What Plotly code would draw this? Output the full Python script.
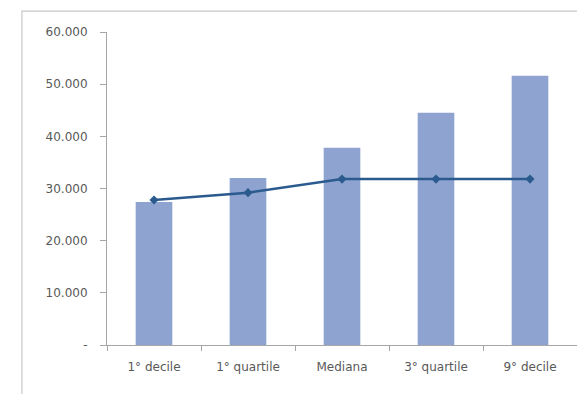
import plotly.graph_objects as go

# Categorie della distribuzione
categorie = ["1° decile", "1° quartile", "Mediana", "3° quartile", "9° decile"]

# Valori delle barre e della linea
valori_barre = [27400, 32000, 37800, 44500, 51600]
valori_linea = [27800, 29200, 31800, 31800, 31800]

# Etichette dell'asse verticale
tick_valori = [0, 10000, 20000, 30000, 40000, 50000, 60000]
tick_etichette = ["-", "10.000", "20.000", "30.000", "40.000", "50.000", "60.000"]

colore_barre = "#8EA3CF"
colore_linea = "#2A5A8E"
colore_testo = "#595959"
colore_assi = "#A6A6A6"
carattere = "DejaVu Sans, Arial, sans-serif"

fig = go.Figure()

fig.add_trace(go.Bar(
    x=categorie,
    y=valori_barre,
    marker=dict(color=colore_barre, line=dict(width=0)),
    showlegend=False,
    hoverinfo="x+y",
))

fig.add_trace(go.Scatter(
    x=categorie,
    y=valori_linea,
    mode="lines+markers",
    line=dict(color=colore_linea, width=2.5),
    marker=dict(symbol="diamond", size=7, color=colore_linea),
    showlegend=False,
))

# Cornice del grafico
fig.add_shape(
    type="rect", xref="paper", yref="paper",
    x0=-0.181, x1=1.3, y0=-0.3, y1=1.067,
    line=dict(color="#C8C8C8", width=1.2),
    fillcolor="rgba(0,0,0,0)",
    layer="below",
)

fig.update_layout(
    width=577,
    height=394,
    margin=dict(l=107, r=0, t=32, b=49),
    paper_bgcolor="white",
    plot_bgcolor="white",
    bargap=0.61,
    font=dict(family=carattere, size=12, color=colore_testo),
    xaxis=dict(
        range=[-0.5, 4.5],
        showline=True,
        linecolor=colore_assi,
        linewidth=1,
        ticks="outside",
        tickson="boundaries",
        ticklen=5,
        tickcolor=colore_assi,
        showgrid=False,
        zeroline=False,
        ticklabelstandoff=11,
        tickfont=dict(family=carattere, size=12, color=colore_testo),
    ),
    yaxis=dict(
        range=[0, 60000],
        tickvals=tick_valori,
        ticktext=tick_etichette,
        showline=True,
        linecolor=colore_assi,
        linewidth=1,
        ticks="outside",
        ticklen=6,
        tickcolor=colore_assi,
        showgrid=False,
        zeroline=False,
        ticklabelstandoff=10,
        tickfont=dict(family=carattere, size=12, color=colore_testo),
    ),
)

fig.write_html("out.html")
